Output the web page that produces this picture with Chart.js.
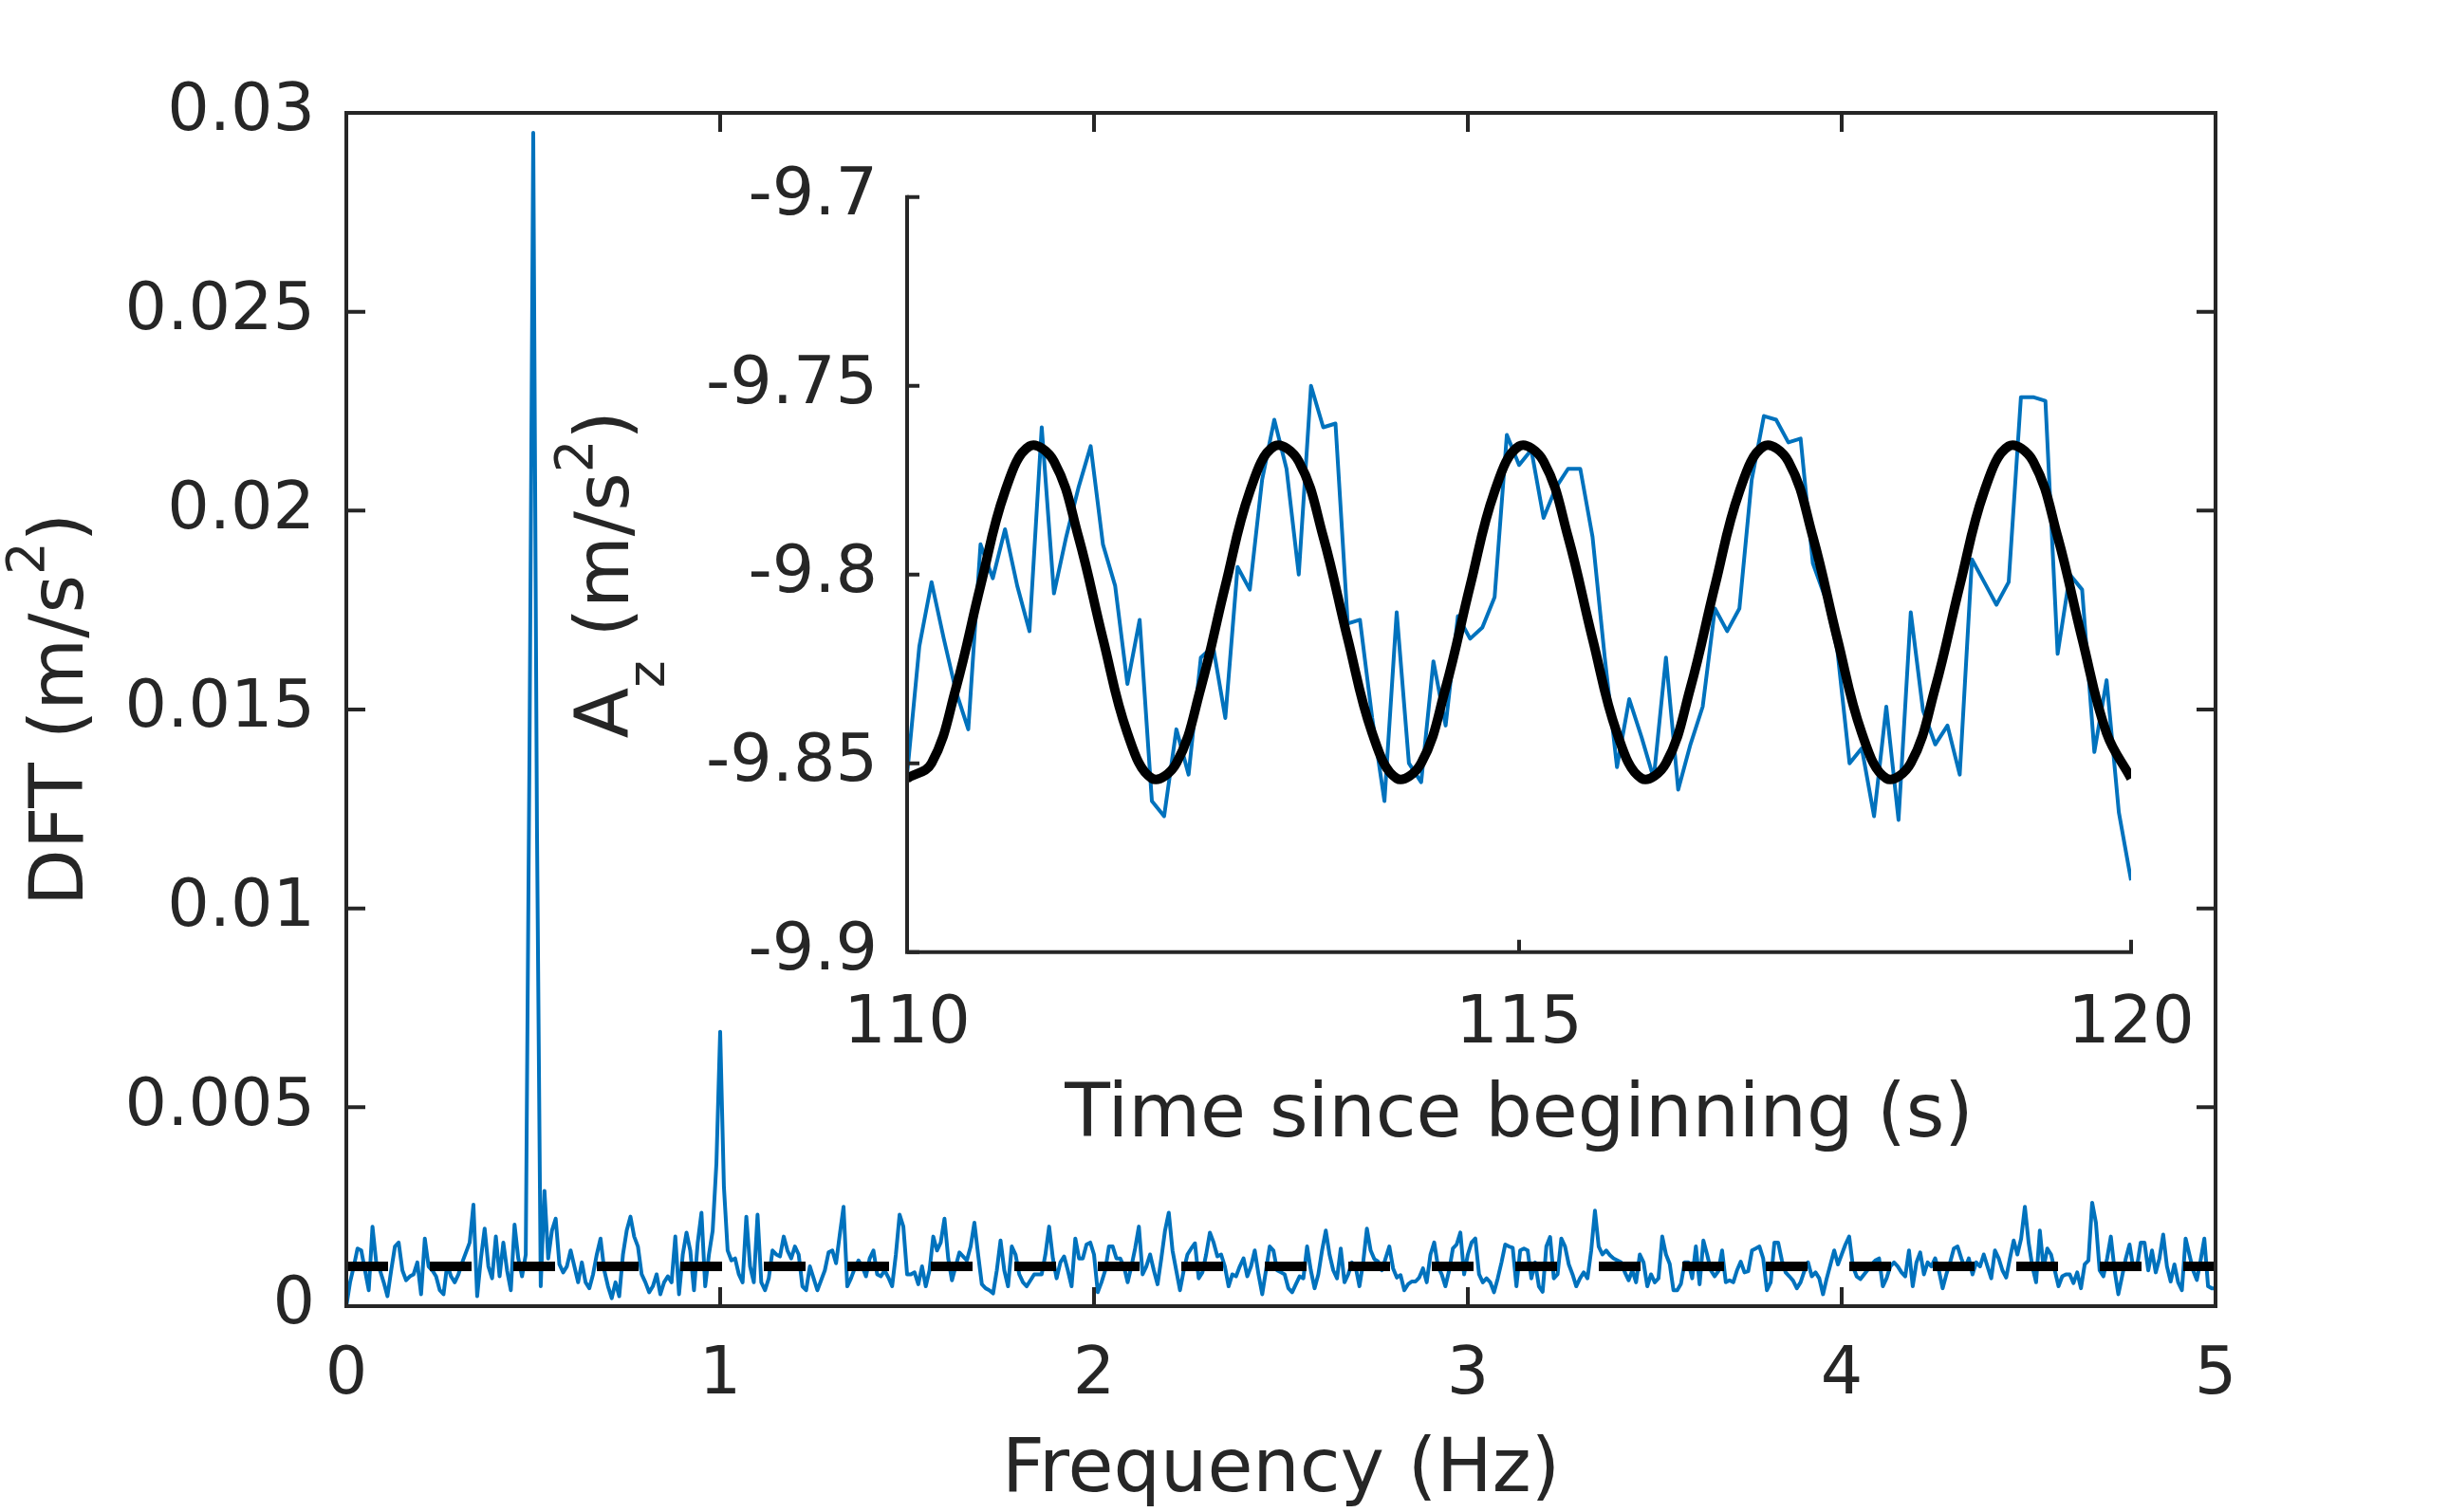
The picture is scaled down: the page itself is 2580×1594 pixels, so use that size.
<!DOCTYPE html>
<html>
<head>
<meta charset="utf-8">
<title>DFT of vertical acceleration</title>
<script src="https://cdn.jsdelivr.net/npm/chart.js@4.4.9/dist/chart.umd.min.js"></script>
<style>
    html, body { margin: 0; padding: 0; background: #fff; overflow: hidden; }
    body { width: 2580px; height: 1594px; position: relative; }
    canvas { position: absolute; }
    #dft-chart { left: 0; top: 0; }
    #accel-chart { left: 560px; top: 100px; }
</style>
</head>
<body>
<canvas id="dft-chart" width="2580" height="1594"></canvas>
<canvas id="accel-chart" width="1800" height="1150"></canvas>
<script>
// ---- main plot: DFT magnitude, one value every 0.01 Hz, in 1e-3 m/s^2 ----
const freqStep = 0.01;
const dftMilli = [
    0, 0.6, 1.0, 1.45, 1.4, 0.9, 0.4, 2.0, 1.1, 0.9,          // 0.00 Hz
    0.6, 0.25, 0.9, 1.5, 1.6, 0.9, 0.65, 0.75, 0.8, 1.1,
    0.3, 1.7, 1.0, 0.9, 0.75, 0.4, 0.3, 1.05, 0.75, 0.6,
    0.8, 1.1, 1.35, 1.6, 2.55, 0.25, 1.2, 1.95, 1.0, 0.7,
    1.75, 0.75, 1.6, 0.9, 0.4, 2.05, 1.2, 0.75, 1.3, 14,
    29.5, 12, 0.5, 2.9, 1.2, 1.9, 2.2, 1.05, 0.85, 1.0,       // 0.50 Hz
    1.4, 1.0, 0.6, 1.1, 0.6, 0.45, 0.8, 1.3, 1.7, 0.9,
    0.5, 0.2, 0.6, 0.25, 1.3, 1.9, 2.25, 1.75, 1.5, 0.8,
    0.6, 0.35, 0.5, 0.8, 0.3, 0.6, 0.75, 0.6, 1.75, 0.3,
    1.3, 1.85, 1.4, 0.4, 1.6, 2.35, 0.5, 1.3, 1.9, 3.6,
    6.9, 3.0, 1.4, 1.15, 1.2, 0.8, 0.6, 2.25, 1.0, 0.6,       // 1.00 Hz
    2.3, 0.6, 0.4, 0.7, 1.4, 1.3, 1.25, 1.75, 1.4, 1.2,
    1.5, 1.3, 0.5, 0.4, 1.0, 0.7, 0.4, 0.65, 0.9, 1.35,
    1.4, 1.08, 1.8, 2.5, 0.5, 0.7, 0.95, 1.15, 1.0, 0.75,
    1.2, 1.4, 0.8, 0.75, 0.9, 0.72, 0.5, 1.3, 2.3, 2.0,
    0.8, 0.8, 0.85, 0.55, 1.0, 0.5, 0.9, 1.75, 1.4, 1.6,     // 1.50 Hz
    2.2, 1.2, 0.65, 1.0, 1.35, 1.25, 1.15, 1.5, 2.1, 1.3,
    0.55, 0.45, 0.4, 0.32, 0.9, 1.65, 0.9, 0.5, 1.5, 1.3,
    0.8, 0.6, 0.5, 0.65, 0.8, 0.8, 0.8, 1.3, 2.0, 1.2,
    0.7, 1.1, 1.25, 0.9, 0.5, 1.7, 1.2, 1.2, 1.55, 1.6,
    1.3, 0.35, 0.6, 0.9, 1.5, 1.5, 1.2, 1.2, 1.0, 0.6,       // 2.00 Hz
    1.0, 1.45, 2.0, 0.8, 1.0, 1.3, 0.9, 0.55, 1.2, 1.9,
    2.35, 1.4, 0.9, 0.4, 0.9, 1.3, 1.45, 1.58, 0.7, 0.85,
    1.3, 1.85, 1.6, 1.25, 1.3, 1.0, 0.5, 0.8, 0.75, 1.0,
    1.2, 0.75, 1.0, 1.4, 0.8, 0.3, 0.9, 1.5, 1.4, 0.9,
    0.85, 0.8, 0.45, 0.35, 0.55, 0.75, 0.7, 1.5, 0.9, 0.45,  // 2.50 Hz
    0.8, 1.4, 1.9, 1.3, 0.9, 0.7, 1.45, 0.6, 0.8, 1.1,
    0.98, 0.5, 1.1, 1.95, 1.4, 1.18, 1.12, 0.9, 1.2, 1.5,
    0.95, 0.72, 0.78, 0.4, 0.55, 0.62, 0.62, 0.72, 0.95, 0.6,
    1.3, 1.6, 1.0, 0.8, 0.5, 0.9, 1.45, 1.55, 1.85, 0.8,
    1.3, 1.6, 1.7, 0.8, 0.6, 0.7, 0.6, 0.35, 0.7, 1.1,       // 3.00 Hz
    1.55, 1.5, 1.47, 0.5, 1.4, 1.45, 1.4, 0.7, 1.1, 0.5,
    0.36, 1.5, 1.74, 0.7, 0.8, 1.7, 1.5, 1.05, 0.8, 0.5,
    0.7, 0.85, 0.7, 1.4, 2.4, 1.5, 1.3, 1.4, 1.28, 1.2,
    1.15, 1.1, 0.85, 0.65, 0.9, 0.6, 1.3, 1.1, 0.5, 0.8,
    0.6, 0.7, 1.75, 1.3, 1.06, 0.4, 0.4, 0.56, 1.1, 1.1,     // 3.50 Hz
    0.7, 1.5, 0.55, 1.65, 1.3, 0.9, 0.75, 0.88, 1.4, 0.6,
    0.65, 0.6, 0.9, 1.12, 0.85, 0.88, 1.4, 1.45, 1.5, 1.2,
    0.4, 0.6, 1.6, 1.6, 1.15, 0.85, 0.75, 0.64, 0.45, 0.6,
    0.88, 1.1, 0.75, 0.85, 0.7, 0.3, 0.7, 1.05, 1.4, 1.05,
    1.3, 1.55, 1.75, 1.0, 0.75, 0.68, 0.8, 0.92, 1.05, 1.15, // 4.00 Hz
    1.2, 0.5, 0.7, 1.0, 1.1, 1.0, 0.85, 0.75, 1.4, 0.5,
    1.1, 1.35, 0.8, 1.1, 1.0, 1.2, 0.9, 0.45, 0.8, 1.1,
    1.45, 1.5, 1.2, 0.96, 1.2, 0.8, 1.1, 1.0, 1.3, 1.0,
    0.7, 1.4, 1.2, 0.9, 0.72, 1.2, 1.65, 1.3, 1.7, 2.5,
    1.6, 1.0, 0.6, 1.9, 0.95, 1.45, 1.3, 0.9, 0.5, 0.75,     // 4.50 Hz
    0.8, 0.8, 0.58, 0.85, 0.45, 1.05, 1.15, 2.6, 2.1, 0.9,
    0.75, 1.2, 1.75, 0.9, 0.3, 0.75, 1.2, 1.55, 0.95, 1.0,
    1.6, 1.6, 0.9, 1.4, 0.85, 1.2, 1.8, 1.0, 0.62, 1.05,
    0.6, 0.4, 1.7, 1.3, 0.9, 0.66, 1.15, 1.7, 0.5, 0.45,
    0.45                                                     // 5.00 Hz
];
const threshold = 0.001;

const freqTicks = [0, 1, 2, 3, 4, 5];
const freqTickLabels = ['0', '1', '2', '3', '4', '5'];
const dftTicks = [0, 0.005, 0.01, 0.015, 0.02, 0.025, 0.03];
const dftTickLabels = ['0', '0.005', '0.01', '0.015', '0.02', '0.025', '0.03'];

// ---- inset: A_z over 110..120 s, sampled every 0.1 s, plus the fitted sine every 0.2 s ----
const timeStart = 110;
const sampleStep = 0.1;
const accelZ = [
    -9.853, -9.819, -9.802, -9.817, -9.831, -9.841, -9.792, -9.801, -9.788, -9.803,
    -9.815, -9.761, -9.805, -9.790, -9.777, -9.766, -9.792, -9.803, -9.829, -9.812,
    -9.860, -9.864, -9.841, -9.853, -9.822, -9.819, -9.838, -9.798, -9.804, -9.775,
    -9.759, -9.772, -9.800, -9.750, -9.761, -9.760, -9.813, -9.812, -9.838, -9.860,
    -9.810, -9.850, -9.855, -9.823, -9.840, -9.811, -9.817, -9.814, -9.806, -9.763,
    -9.771, -9.767, -9.785, -9.777, -9.772, -9.772, -9.790, -9.822, -9.851, -9.833,
    -9.843, -9.854, -9.822, -9.857, -9.845, -9.835, -9.809, -9.815, -9.809, -9.775,
    -9.758, -9.759, -9.765, -9.764, -9.797, -9.806, -9.820, -9.850, -9.846, -9.864,
    -9.835, -9.865, -9.810, -9.836, -9.845, -9.840, -9.853, -9.796, -9.802, -9.808,
    -9.802, -9.753, -9.753, -9.754, -9.821, -9.800, -9.804, -9.847, -9.828, -9.863,
    -9.881
];
const fitStep = 0.2;
const fitZ = [
    -9.854, -9.850, -9.830, -9.803, -9.778, -9.766, -9.770, -9.790, -9.817, -9.842,
    -9.854, -9.850, -9.830, -9.803, -9.778, -9.766, -9.770, -9.790, -9.817, -9.842,
    -9.854, -9.850, -9.830, -9.803, -9.778, -9.766, -9.770, -9.790, -9.817, -9.842,
    -9.854, -9.850, -9.830, -9.803, -9.778, -9.766, -9.770, -9.790, -9.817, -9.842,
    -9.854, -9.850, -9.830, -9.803, -9.778, -9.766, -9.770, -9.790, -9.817, -9.842,
    -9.854
];

const timeTicks = [110, 115, 120];
const timeTickLabels = ['110', '115', '120'];
const azTicks = [-9.9, -9.85, -9.8, -9.75, -9.7];
const azTickLabels = ['-9.9', '-9.85', '-9.8', '-9.75', '-9.7'];

const FONT = 'DejaVu Sans';
const INK = '#262626';
const BLUE = '#0072BD';
const TICK_SIZE = 70;
const TITLE_SIZE = 78;

// MATLAB-like axes: box / left+bottom lines and inward tick marks
const matlabAxes = {
    id: 'matlabAxes',
    afterDatasetsDraw(chart, args, opts) {
        const { ctx, chartArea: a, scales: { x, y } } = chart;
        ctx.save();
        ctx.strokeStyle = INK;
        ctx.lineWidth = opts.width;
        ctx.beginPath();
        x.ticks.forEach(t => {
            const px = x.getPixelForValue(t.value);
            ctx.moveTo(px, a.bottom);
            ctx.lineTo(px, a.bottom - opts.len);
            if (opts.box) {
                ctx.moveTo(px, a.top);
                ctx.lineTo(px, a.top + opts.len);
            }
        });
        y.ticks.forEach(t => {
            const py = y.getPixelForValue(t.value);
            ctx.moveTo(a.left, py);
            ctx.lineTo(a.left + opts.len, py);
            if (opts.box) {
                ctx.moveTo(a.right, py);
                ctx.lineTo(a.right - opts.len, py);
            }
        });
        ctx.stroke();
        ctx.lineJoin = 'miter';
        ctx.lineCap = 'square';
        ctx.beginPath();
        if (opts.box) {
            ctx.rect(a.left, a.top, a.right - a.left, a.bottom - a.top);
        } else {
            ctx.moveTo(a.left, a.top);
            ctx.lineTo(a.left, a.bottom);
            ctx.lineTo(a.right, a.bottom);
        }
        ctx.stroke();
        ctx.restore();
    }
};

// rotated y title with sub/superscripts
const richTitle = {
    id: 'richTitle',
    afterDraw(chart, args, opts) {
        if (!opts.parts) return;
        const { ctx, chartArea } = chart;
        ctx.save();
        ctx.translate(opts.baselineX, (chartArea.top + chartArea.bottom) / 2);
        ctx.rotate(-Math.PI / 2);
        ctx.fillStyle = INK;
        ctx.textBaseline = 'alphabetic';
        let total = 0;
        const widths = opts.parts.map(p => {
            ctx.font = `${p.size}px "${FONT}"`;
            const w = ctx.measureText(p.text).width;
            total += w;
            return w;
        });
        let cx = -total / 2;
        opts.parts.forEach((p, i) => {
            ctx.font = `${p.size}px "${FONT}"`;
            ctx.fillText(p.text, cx, p.dy || 0);
            cx += widths[i];
        });
        ctx.restore();
    }
};

const makeScale = (min, max, tickValues, tickLabels, opts) => ({
    type: 'linear',
    min: min,
    max: max,
    afterBuildTicks: scale => { scale.ticks = tickValues.map(value => ({ value })); },
    afterFit: scale => {
        if (opts.width !== undefined) scale.width = opts.width;
        if (opts.height !== undefined) scale.height = opts.height;
    },
    grid: { display: false, drawTicks: false },
    border: { display: false },
    ticks: {
        autoSkip: false,
        maxRotation: 0,
        minRotation: 0,
        padding: opts.padding,
        color: INK,
        font: { family: FONT, size: TICK_SIZE },
        callback: (value, index) => tickLabels[index]
    },
    title: opts.title ? {
        display: true,
        text: opts.title,
        color: INK,
        font: { family: FONT, size: TITLE_SIZE },
        padding: { top: 0, bottom: opts.titlePad }
    } : { display: false }
});

const sub = TITLE_SIZE * 0.7;

const dftChart = new Chart(document.getElementById('dft-chart').getContext('2d'), {
    type: 'line',
    data: {
        datasets: [{
            label: 'threshold',
            data: [{ x: 0, y: threshold }, { x: 5, y: threshold }],
            borderColor: '#000',
            borderWidth: 10,
            borderDash: [44, 44],
            borderCapStyle: 'butt',
            pointRadius: 0,
            order: 0
        }, {
            label: 'DFT',
            data: dftMilli.map((v, i) => ({ x: i * freqStep, y: v / 1000 })),
            borderColor: BLUE,
            borderWidth: 4,
            borderJoinStyle: 'round',
            pointRadius: 0,
            tension: 0,
            order: 1
        }]
    },
    options: {
        responsive: false,
        animation: false,
        devicePixelRatio: 1,
        events: [],
        layout: { padding: { top: 119, right: 245, bottom: 0, left: 0 } },
        plugins: {
            legend: { display: false },
            tooltip: { enabled: false },
            matlabAxes: { box: true, len: 20, width: 4 },
            richTitle: {
                baselineX: 87,
                parts: [
                    { text: 'DFT (m/s', size: TITLE_SIZE },
                    { text: '2', size: sub, dy: -41 },
                    { text: ')', size: TITLE_SIZE }
                ]
            }
        },
        scales: {
            x: makeScale(0, 5, freqTicks, freqTickLabels, { height: 217, padding: 32, title: 'Frequency (Hz)', titlePad: -5 }),
            y: makeScale(0, 0.03, dftTicks, dftTickLabels, { width: 365, padding: 33 })
        }
    },
    plugins: [matlabAxes, richTitle]
});

const accelChart = new Chart(document.getElementById('accel-chart').getContext('2d'), {
    type: 'line',
    data: {
        datasets: [{
            label: 'fit',
            data: fitZ.map((v, i) => ({ x: timeStart + i * fitStep, y: v })),
            borderColor: '#000',
            borderWidth: 10,
            pointRadius: 0,
            tension: 0.4,
            order: 0
        }, {
            label: 'A_z',
            data: accelZ.map((v, i) => ({ x: timeStart + i * sampleStep, y: v })),
            borderColor: BLUE,
            borderWidth: 4,
            borderJoinStyle: 'round',
            pointRadius: 0,
            tension: 0,
            order: 1
        }]
    },
    options: {
        responsive: false,
        animation: false,
        devicePixelRatio: 1,
        events: [],
        layout: { padding: { top: 107.7, right: 114, bottom: 0, left: 0 } },
        plugins: {
            legend: { display: false },
            tooltip: { enabled: false },
            matlabAxes: { box: false, len: 13, width: 4 },
            richTitle: {
                baselineX: 102,
                parts: [
                    { text: 'A', size: TITLE_SIZE },
                    { text: 'z', size: sub, dy: 38 },
                    { text: ' (m/s', size: TITLE_SIZE },
                    { text: '2', size: sub, dy: -38 },
                    { text: ')', size: TITLE_SIZE }
                ]
            }
        },
        scales: {
            x: makeScale(110, 120, timeTicks, timeTickLabels, { height: 246.3, padding: 35, title: 'Time since beginning (s)', titlePad: 25 }),
            y: makeScale(-9.9, -9.7, azTicks, azTickLabels, { width: 396, padding: 31 })
        }
    },
    plugins: [matlabAxes, richTitle]
});
</script>
</body>
</html>
